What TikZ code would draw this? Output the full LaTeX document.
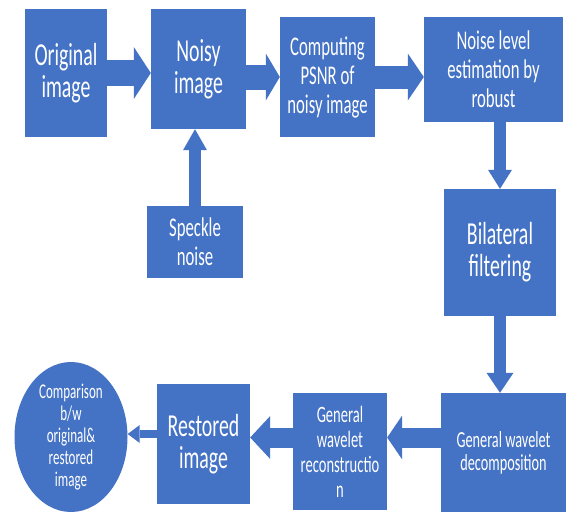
\documentclass[tikz,border=0pt]{standalone}
\usepackage{fontspec}
\setmainfont{Carlito}[FakeStretch=0.62]
\usepackage{xcolor}
\definecolor{flowBlue}{HTML}{4472C4}
\usetikzlibrary{arrows.meta,shapes.geometric}

\tikzset{
  procBox/.style={rectangle, fill=flowBlue, text=white, align=center, inner sep=0pt},
  bigText/.style={font=\fontsize{32}{32}\selectfont},
  midText/.style={font=\fontsize{27}{29}\selectfont},
  smallText/.style={font=\fontsize{23.5}{25}\selectfont},
  tinyText/.style={font=\fontsize{21}{22}\selectfont},
  blockArrow/.style n args={3}{draw=flowBlue, line width=#1,
    -{Triangle[length=#2, width=#3, line width=0pt]}}
}

\begin{document}
\begin{tikzpicture}[x=1pt, y=-1pt]
  \filldraw[fill=white, draw=none] (0,0) rectangle (566,512);
  \useasboundingbox (0,0) rectangle (566,512);
  % top row
  \node[procBox, bigText, minimum width=82pt, minimum height=128pt] (orig) at (66,73) {Original\\image};
  \node[procBox, bigText, minimum width=95pt, minimum height=120pt] (noisy) at (198.5,69) {Noisy\\image};
  \node[procBox, midText, minimum width=95pt, minimum height=120pt] (psnr) at (327.5,77) {Computing\\PSNR of\\noisy image};
  \node[procBox, midText, minimum width=139pt, minimum height=105pt] (robust) at (493.5,69.5) {Noise level\\estimation by\\robust};
  \node[procBox, midText, minimum width=96pt, minimum height=72pt] (speckle) at (195,242) {Speckle\\noise};
  % right column
  \node[procBox, bigText, minimum width=112pt, minimum height=127pt] (bilat) at (500,252.5) {Bilateral\\filtering};
  \node[procBox, font=\fontsize{23}{23}\selectfont, minimum width=125pt, minimum height=119pt] (decomp) at (503.5,452.5) {General wavelet\\decomposition};
  % bottom row
  \node[procBox, smallText, minimum width=94pt, minimum height=117pt] (recon) at (340,451.5) {General\\wavelet\\reconstructio\\n};
  \node[procBox, bigText, minimum width=93pt, minimum height=120pt] (restored) at (203.5,444) {Restored\\image};
  \node[procBox, ellipse, tinyText, minimum width=113pt, minimum height=127pt] (compare) at (71,437) {Comparison\\b/w\\original\&\\restored\\image};
  % connectors
  \draw[blockArrow={26pt}{17pt}{52pt}] (orig.east) -- (orig.east -| noisy.west);
  \draw[blockArrow={25pt}{14pt}{47pt}] (psnr.west -| noisy.east) -- (psnr.west);
  \draw[blockArrow={23pt}{16pt}{47pt}] (psnr.east) -- (psnr.east -| robust.west);
  \draw[blockArrow={12pt}{19pt}{24pt}] (bilat.north |- robust.south) -- (bilat.north);
  \draw[blockArrow={12pt}{20pt}{27pt}] (bilat.south) -- (bilat.south |- decomp.north);
  \draw[blockArrow={20pt}{15pt}{44pt}] ([yshift=15pt]decomp.west) -- ([yshift=15pt]decomp.west -| recon.east);
  \draw[blockArrow={20pt}{20pt}{43pt}] ([yshift=14pt]recon.west) -- ([yshift=14pt]recon.west -| restored.east);
  \draw[blockArrow={8pt}{12pt}{18pt}] ([yshift=10pt]restored.west) -- ([yshift=10pt]restored.west -| compare.east);
  \draw[blockArrow={12pt}{21pt}{24pt}] (speckle.north) -- (speckle.north |- noisy.south);
\end{tikzpicture}
\end{document}
